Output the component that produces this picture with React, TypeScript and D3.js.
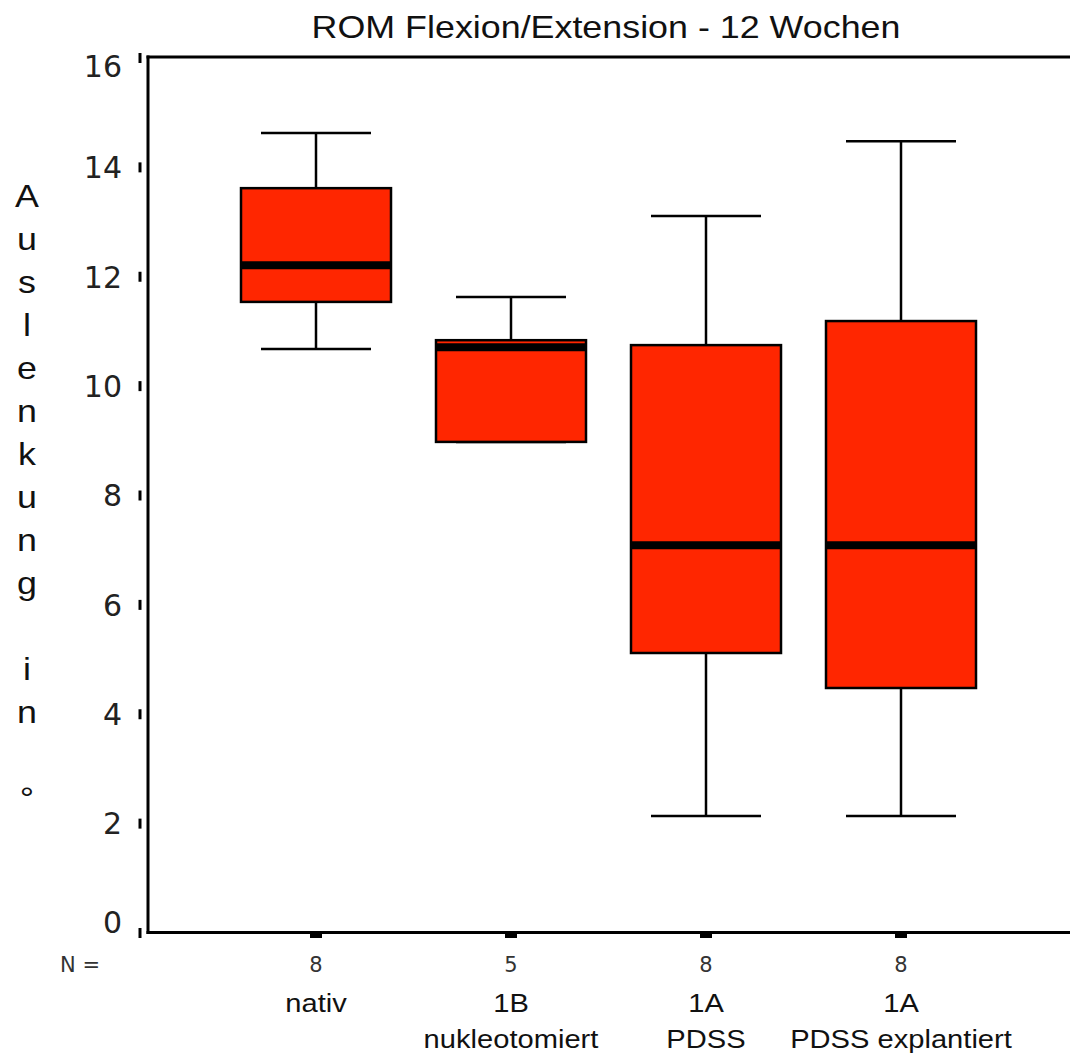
import React from "react";
import * as d3 from "d3";

const categoriesLine1 = ["", "1B", "1A", "1A"];
const categoriesLine2 = ["nativ", "nukleotomiert", "PDSS", "PDSS explantiert"];
const categoryKeys = ["nativ", "1B", "1A PDSS", "1A PDSS explantiert"];
const nValues = [8, 5, 8, 8];
const whiskerLow = [10.68, 8.98, 2.14, 2.14];
const q1Values = [11.54, 8.98, 5.12, 4.48];
const medianValues = [12.21, 10.71, 7.09, 7.09];
const q3Values = [13.62, 10.84, 10.75, 11.19];
const whiskerHigh = [14.63, 11.63, 13.11, 14.48];
const yTicks = [0, 2, 4, 6, 8, 10, 12, 14, 16];
const titleText = "ROM Flexion/Extension - 12 Wochen";
const yTitle = "Auslenkung in °";

const W = 1070;
const H = 1057;
const FILL = "#ff2600";
const SX = 1.12;

export default function App() {
  const y = d3.scaleLinear().domain([0, 16]).range([933, 58]);
  const x = d3.scalePoint<string>().domain(categoryKeys).range([316, 901]);
  const left = 148;
  const boxW = 150;
  const capW = 110;
  const chars = Array.from(yTitle);

  return (
    <svg width={W} height={H} style={{ position: "absolute", left: 0, top: 0, background: "#fff" }}>
      <rect x={0} y={0} width={W} height={H} fill="#fff" />
      {/* title */}
      <text
        transform={`translate(606,38) scale(${SX},1)`}
        textAnchor="middle"
        fontFamily="Liberation Sans, Arial, sans-serif"
        fontSize={32}
        fill="#111"
      >
        {titleText}
      </text>
      {/* y title stacked letters */}
      {chars.map((c, i) => (
        <text
          key={i}
          transform={`translate(27,${207 + 43 * i}) scale(${SX},1)`}
          textAnchor="middle"
          fontFamily="Liberation Sans, Arial, sans-serif"
          fontSize={32}
          fill="#111"
        >
          {c}
        </text>
      ))}
      {/* y ticks */}
      {yTicks.map((t) => {
        const yy = y(t);
        const ly = Math.min(Math.max(yy, 66), 922);
        return (
          <g key={t}>
            <line x1={140} x2={140} y1={yy - 5} y2={yy + 5} stroke="#000" strokeWidth={3} />
            <text
              x={122}
              y={ly}
              dy="0.36em"
              textAnchor="end"
              fontFamily="DejaVu Sans, Verdana, sans-serif"
              fontSize={30}
              fill="#222"
            >
              {t}
            </text>
          </g>
        );
      })}
      {/* frame */}
      <line x1={left} x2={left} y1={55.5} y2={934} stroke="#000" strokeWidth={3} />
      <line x1={left - 1.5} x2={W} y1={57} y2={57} stroke="#000" strokeWidth={3} />
      <line x1={left - 1.5} x2={W} y1={932.5} y2={932.5} stroke="#000" strokeWidth={3} />
      {/* boxes */}
      {categoryKeys.map((k, i) => {
        const cx = x(k) as number;
        return (
          <g key={k}>
            <rect x={cx - 6} y={933} width={12} height={5} fill="#000" />
            <line x1={cx} x2={cx} y1={y(whiskerHigh[i])} y2={y(q3Values[i])} stroke="#000" strokeWidth={2.5} />
            <line x1={cx} x2={cx} y1={y(q1Values[i])} y2={y(whiskerLow[i])} stroke="#000" strokeWidth={2.5} />
            <line x1={cx - capW / 2} x2={cx + capW / 2} y1={y(whiskerHigh[i])} y2={y(whiskerHigh[i])} stroke="#000" strokeWidth={2.5} />
            <line x1={cx - capW / 2} x2={cx + capW / 2} y1={y(whiskerLow[i])} y2={y(whiskerLow[i])} stroke="#000" strokeWidth={2.5} />
            <rect
              x={cx - boxW / 2}
              y={y(q3Values[i])}
              width={boxW}
              height={y(q1Values[i]) - y(q3Values[i])}
              fill={FILL}
              stroke="#000"
              strokeWidth={2.5}
            />
            <line
              x1={cx - boxW / 2}
              x2={cx + boxW / 2}
              y1={y(medianValues[i])}
              y2={y(medianValues[i])}
              stroke="#000"
              strokeWidth={8}
            />
            <text
              x={cx}
              y={972}
              textAnchor="middle"
              fontFamily="DejaVu Sans, Verdana, sans-serif"
              fontSize={21}
              fill="#333"
            >
              {nValues[i]}
            </text>
            {categoriesLine1[i] ? (
              <>
                <text
                  transform={`translate(${cx},1012) scale(${SX},1)`}
                  textAnchor="middle"
                  fontFamily="Liberation Sans, Arial, sans-serif"
                  fontSize={26}
                  fill="#111"
                >
                  {categoriesLine1[i]}
                </text>
                <text
                  transform={`translate(${cx},1048) scale(${SX},1)`}
                  textAnchor="middle"
                  fontFamily="Liberation Sans, Arial, sans-serif"
                  fontSize={26}
                  fill="#111"
                >
                  {categoriesLine2[i]}
                </text>
              </>
            ) : (
              <text
                transform={`translate(${cx},1012) scale(${SX},1)`}
                textAnchor="middle"
                fontFamily="Liberation Sans, Arial, sans-serif"
                fontSize={26}
                fill="#111"
              >
                {categoriesLine2[i]}
              </text>
            )}
          </g>
        );
      })}
      <text
        x={80}
        y={972}
        textAnchor="middle"
        fontFamily="DejaVu Sans, Verdana, sans-serif"
        fontSize={21}
        fill="#333"
      >
        N =
      </text>
    </svg>
  );
}
